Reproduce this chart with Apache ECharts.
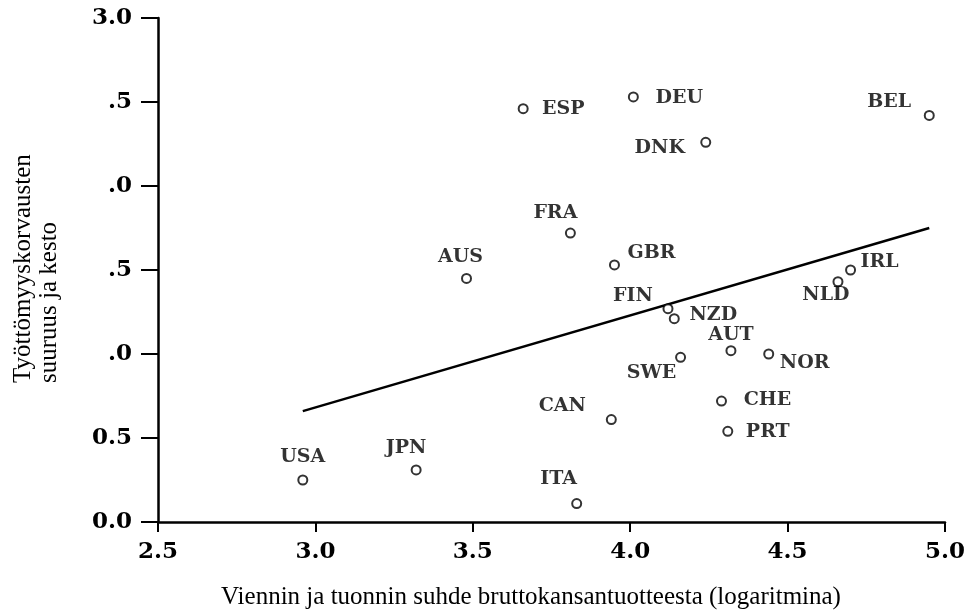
<!DOCTYPE html>
<html>
<head>
<meta charset="utf-8">
<script src="https://cdn.jsdelivr.net/npm/echarts@6/dist/echarts.min.js"></script>
<style>
  html, body { margin: 0; padding: 0; background: #ffffff; }
  #chart { width: 970px; height: 612px; }
</style>
</head>
<body>
<div id="chart"></div>
<script>
// ---- data ----
var countries = ['USA','JPN','ITA','CAN','AUS','ESP','FRA','GBR','DEU','FIN','NZD','SWE','DNK','CHE','PRT','AUT','NOR','NLD','IRL','BEL'];
var tradeLog  = [2.96, 3.32, 3.83, 3.94, 3.48, 3.66, 3.81, 3.95, 4.01, 4.12, 4.14, 4.16, 4.24, 4.29, 4.31, 4.32, 4.44, 4.66, 4.70, 4.95];
var benefits  = [0.25, 0.31, 0.11, 0.61, 1.45, 2.46, 1.72, 1.53, 2.53, 1.27, 1.21, 0.98, 2.26, 0.72, 0.54, 1.02, 1.00, 1.43, 1.50, 2.42];
var fitX = [2.96, 4.95];
var fitY = [0.66, 1.75];
var xTickLabels = ['2.5','3.0','3.5','4.0','4.5','5.0'];
var yTickLabels = ['0.0','0.5','.0','.5','.0','.5','3.0'];
var xTitle = 'Viennin ja tuonnin suhde bruttokansantuotteesta (logaritmina)';
var yTitle = 'Työttömyyskorvausten\nsuuruus ja kesto';

// ---- label placement (style only) ----
var labelOffset = {
  USA:[0,-23], JPN:[-10,-22], ITA:[-18,-24], CAN:[-49,-13], AUS:[-6,-21],
  ESP:[40,0], FRA:[-15,-20], GBR:[37,-12], DEU:[46,1], FIN:[-35,-13],
  NZD:[39,-4], SWE:[-29,16], DNK:[-46,6], CHE:[46,-1], PRT:[40,1],
  AUT:[0,-16], NOR:[36,9], NLD:[-12,13], IRL:[29,-8], BEL:[-40,-13]
};

var ink = '#000000';
var points = countries.map(function (c, i) {
  return { name: c, value: [tradeLog[i], benefits[i]] };
});
var fitLine = fitX.map(function (x, i) { return [x, fitY[i]]; });

var chart = echarts.init(document.getElementById('chart'), null, { renderer: 'canvas' });
chart.setOption({
  animation: false,
  backgroundColor: '#ffffff',
  grid: { left: 158, right: 25, top: 18, bottom: 90, containLabel: false },
  xAxis: {
    type: 'value', min: 2.5, max: 5.0, interval: 0.5,
    splitLine: { show: false },
    axisLine: { show: true, onZero: false, lineStyle: { color: ink, width: 2.5 } },
    axisTick: { show: true, inside: false, length: 10, lineStyle: { color: ink, width: 2 } },
    axisLabel: {
      margin: 19, color: ink, fontFamily: 'DejaVu Serif', fontWeight: 'bold', fontSize: 23,
      formatter: function (v) { return xTickLabels[Math.round((v - 2.5) / 0.5)]; }
    }
  },
  yAxis: {
    type: 'value', min: 0, max: 3.0, interval: 0.5,
    splitLine: { show: false },
    axisLine: { show: true, onZero: false, lineStyle: { color: ink, width: 2.5 } },
    axisTick: { show: true, inside: false, length: 17, lineStyle: { color: ink, width: 2 } },
    axisLabel: {
      margin: 26, color: ink, fontFamily: 'DejaVu Serif', fontWeight: 'bold', fontSize: 23,
      formatter: function (v) { return yTickLabels[Math.round(v / 0.5)]; }
    }
  },
  graphic: [
    {
      type: 'text', x: 36, y: 383, rotation: Math.PI / 2,
      style: {
        text: yTitle, fill: ink, font: '25px "Liberation Serif"',
        align: 'left', verticalAlign: 'middle', lineHeight: 26
      }
    },
    {
      type: 'text', x: 531, y: 597,
      style: {
        text: xTitle, fill: ink, font: '25px "Liberation Serif"',
        align: 'center', verticalAlign: 'middle'
      }
    }
  ],
  series: [
    {
      type: 'line', data: fitLine, symbol: 'none', silent: true,
      lineStyle: { color: ink, width: 2.5 }, z: 2
    },
    {
      type: 'scatter', data: points, symbol: 'circle', symbolSize: 9,
      itemStyle: { color: '#ffffff', borderColor: ink, borderWidth: 2 },
      label: {
        show: true, position: 'inside', formatter: '{b}',
        color: ink, fontFamily: 'DejaVu Serif', fontWeight: 'bold', fontSize: 19
      },
      labelLayout: function (params) {
        var off = labelOffset[countries[params.dataIndex]] || [0, 0];
        return { hideOverlap: false, dx: off[0], dy: off[1] };
      },
      z: 3
    }
  ]
});
</script>
</body>
</html>
